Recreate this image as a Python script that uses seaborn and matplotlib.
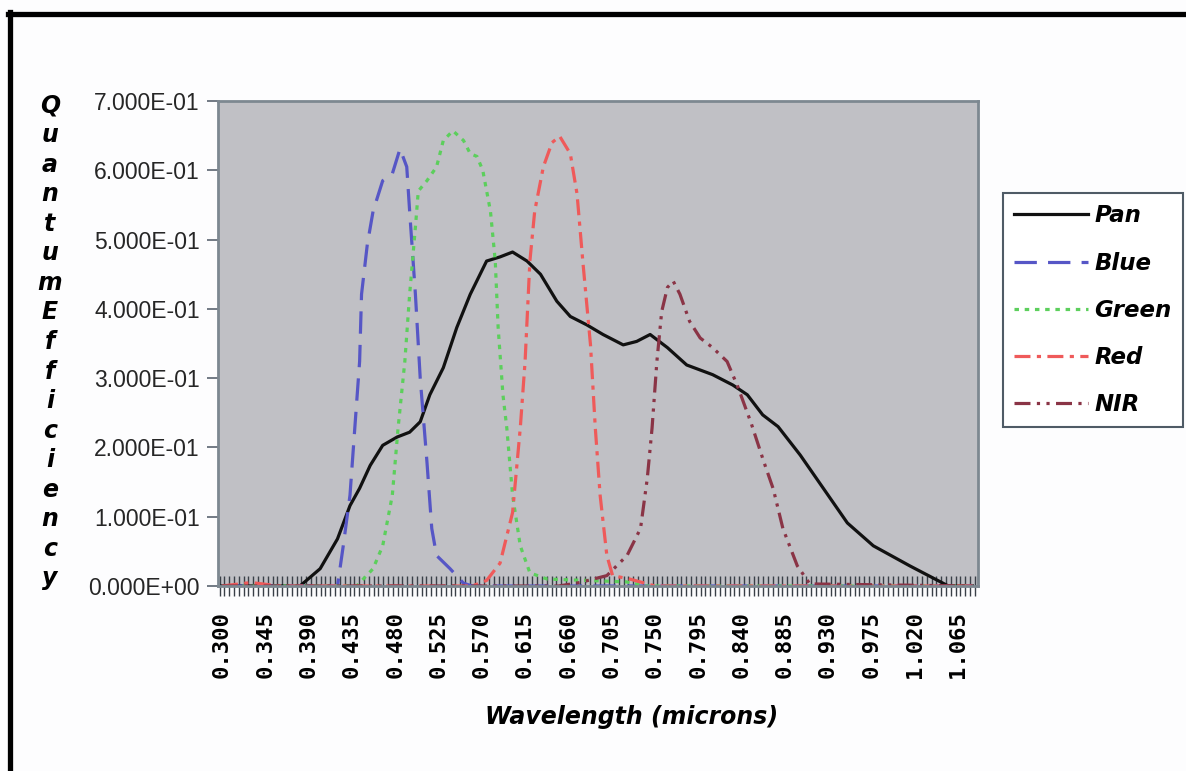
"""Quantum efficiency curves of the Pan / Blue / Green / Red / NIR bands."""

import matplotlib
matplotlib.use("Agg")
import matplotlib.pyplot as plt
import numpy as np
import pandas as pd
import seaborn as sns
from matplotlib.lines import Line2D
from matplotlib.ticker import FixedLocator

# values (wavelength in microns, quantum efficiency)
pan_wl = [0.300, 0.381, 0.402, 0.420, 0.433, 0.443, 0.454, 0.467, 0.482, 0.495,
          0.506, 0.516, 0.530, 0.544, 0.558, 0.575, 0.589, 0.602, 0.617, 0.631,
          0.648, 0.662, 0.679, 0.696, 0.717, 0.731, 0.745, 0.763, 0.783, 0.810,
          0.831, 0.846, 0.862, 0.878, 0.901, 0.925, 0.950, 0.977, 1.015, 1.055,
          1.080]
pan_qe = [0.000, 0.000, 0.025, 0.068, 0.116, 0.141, 0.174, 0.203, 0.215, 0.222,
          0.237, 0.276, 0.315, 0.373, 0.421, 0.469, 0.475, 0.482, 0.469, 0.450,
          0.411, 0.389, 0.377, 0.363, 0.348, 0.353, 0.363, 0.344, 0.319, 0.305,
          0.290, 0.276, 0.247, 0.230, 0.189, 0.141, 0.091, 0.058, 0.029, 0.000,
          0.000]

blue_wl = [0.300, 0.420, 0.426, 0.433, 0.438, 0.443, 0.445, 0.451, 0.457, 0.467,
           0.477, 0.485, 0.492, 0.495, 0.501, 0.506, 0.513, 0.518, 0.523, 0.537,
           0.551, 0.560, 1.080]
blue_qe = [0.000, 0.000, 0.058, 0.131, 0.228, 0.324, 0.421, 0.493, 0.541, 0.585,
           0.595, 0.631, 0.605, 0.541, 0.421, 0.300, 0.179, 0.083, 0.044, 0.025,
           0.004, 0.000, 0.000]

green_wl = [0.300, 0.440, 0.457, 0.467, 0.477, 0.483, 0.490, 0.495, 0.501, 0.504,
            0.513, 0.523, 0.530, 0.540, 0.551, 0.558, 0.565, 0.571, 0.579, 0.584,
            0.587, 0.592, 0.596, 0.602, 0.610, 0.620, 0.638, 0.680, 0.720, 0.740,
            1.080]
green_qe = [0.000, 0.000, 0.025, 0.058, 0.131, 0.228, 0.324, 0.421, 0.518, 0.570,
            0.585, 0.605, 0.643, 0.657, 0.643, 0.624, 0.620, 0.600, 0.541, 0.469,
            0.373, 0.276, 0.228, 0.131, 0.058, 0.019, 0.010, 0.008, 0.006, 0.000,
            0.000]

red_wl = [0.300, 0.330, 0.360, 0.560, 0.575, 0.589, 0.602, 0.610, 0.615, 0.620,
          0.625, 0.634, 0.643, 0.651, 0.662, 0.669, 0.675, 0.683, 0.688, 0.693,
          0.700, 0.706, 0.724, 0.750, 1.080]
red_qe = [0.000, 0.005, 0.000, 0.000, 0.008, 0.033, 0.106, 0.228, 0.324, 0.469,
          0.541, 0.605, 0.640, 0.649, 0.624, 0.566, 0.469, 0.348, 0.228, 0.131,
          0.044, 0.015, 0.010, 0.000, 0.000]

nir_wl = [0.300, 0.650, 0.672, 0.700, 0.721, 0.735, 0.742, 0.747, 0.752, 0.757,
          0.763, 0.769, 0.776, 0.786, 0.797, 0.810, 0.825, 0.836, 0.850, 0.863,
          0.873, 0.883, 0.898, 0.911, 1.080]
nir_qe = [0.000, 0.000, 0.005, 0.015, 0.044, 0.083, 0.155, 0.228, 0.324, 0.396,
          0.431, 0.440, 0.421, 0.382, 0.358, 0.344, 0.324, 0.288, 0.235, 0.180,
          0.140, 0.083, 0.029, 0.003, 0.000]

bands = ["Pan", "Blue", "Green", "Red", "NIR"]
x_labels = [0.300, 0.345, 0.390, 0.435, 0.480, 0.525, 0.570, 0.615, 0.660,
            0.705, 0.750, 0.795, 0.840, 0.885, 0.930, 0.975, 1.020, 1.065]
y_ticks = [0.0, 0.1, 0.2, 0.3, 0.4, 0.5, 0.6, 0.7]

colors = {"Pan": "#111111", "Blue": "#5656c6", "Green": "#5ccf5c",
          "Red": "#ef5a5a", "NIR": "#8a3446"}
styles = {"Pan": "-", "Blue": (0, (7, 3.5)), "Green": (0, (1.4, 1.8)),
          "Red": (0, (5, 2, 1.3, 2)), "NIR": (0, (5, 2, 1, 2, 1, 2))}

comic = dict(family="DejaVu Sans", weight="bold", style="italic")

W, H = 1186, 771
fig = plt.figure(figsize=(W / 100, H / 100), dpi=100, facecolor="#fdfdfe")
ax = fig.add_axes([218 / W, 1 - 586 / H, 760 / W, 485 / H])
ax.set_facecolor("#c0c0c5")

series = {"Pan": (pan_wl, pan_qe), "Blue": (blue_wl, blue_qe),
          "Green": (green_wl, green_qe), "Red": (red_wl, red_qe),
          "NIR": (nir_wl, nir_qe)}
for name in bands:
    wl, qe = series[name]
    df = pd.DataFrame({"wavelength": wl, "qe": qe})
    sns.lineplot(data=df, x="wavelength", y="qe", ax=ax, color=colors[name],
                 linestyle=styles[name], lw=2.3, label=name, sort=False)

ax.set_xlim(0.2958, 1.0858)
ax.set_ylim(0, 0.7)
ax.set_xlabel("")
ax.set_ylabel("")

ax.set_xticks(x_labels)
ax.set_xticklabels([f"{v:.3f}" for v in x_labels], rotation=90,
                   family="DejaVu Sans Mono", weight="bold", fontsize=16)
ax.xaxis.set_minor_locator(FixedLocator(np.arange(0.2975, 1.086, 0.005)))
ax.tick_params(axis="x", which="major", length=0, pad=18)
ax.tick_params(axis="x", which="minor", direction="inout", length=14,
               width=1, color="#3a4048")

ax.set_yticks(y_ticks)
ax.set_yticklabels([f"{v:.3E}" for v in y_ticks], family="Liberation Sans",
                   fontsize=16.5, color="#262626")
ax.tick_params(axis="y", direction="out", length=8, width=1.2,
               color="#5a6470", pad=5)

for side, sp in ax.spines.items():
    sp.set_color("#7d8891")
    sp.set_linewidth(2)

leg = ax.legend(loc="upper left", bbox_to_anchor=(1003 / W, 1 - 193 / H),
                bbox_transform=fig.transFigure, prop=dict(size=16.5, **comic),
                handlelength=3.2, handletextpad=0.3, labelspacing=1.05,
                borderpad=0.5, borderaxespad=0, fancybox=False,
                framealpha=1, facecolor="white", edgecolor="#4f5b66")
leg.get_frame().set_linewidth(1.5)

fig.text(50 / W, 1 - 342 / H, "\n".join("QuantumEfficiency"), ha="center",
         va="center", fontsize=17, linespacing=1.29, **comic)
fig.text(632 / W, 1 - 717 / H, "Wavelength (microns)", ha="center",
         va="center", fontsize=17, **comic)

# black frame around the top and left of the picture
fig.add_artist(Line2D([8 / W, 1], [1 - 14 / H, 1 - 14 / H], color="black",
                      lw=3.8, transform=fig.transFigure))
fig.add_artist(Line2D([10 / W, 10 / W], [0, 1 - 12 / H], color="black",
                      lw=3.8, transform=fig.transFigure))

fig.savefig("out.png", dpi=100, facecolor=fig.get_facecolor())
